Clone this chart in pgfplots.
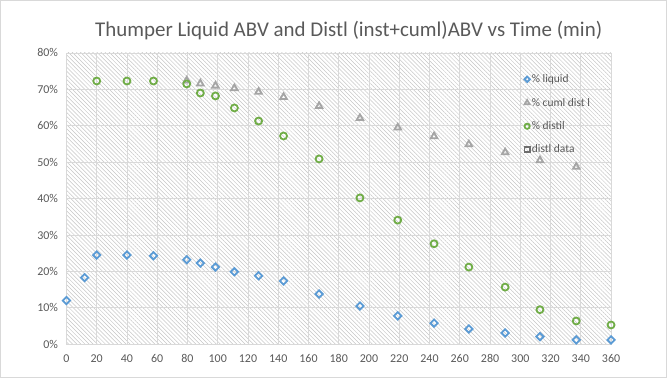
\documentclass[border=0pt]{standalone}
\usepackage{fontspec}
\setmainfont{Carlito}
\usepackage{pgfplots}
\pgfplotsset{compat=1.18}
\usetikzlibrary{patterns.meta}
\definecolor{txt}{RGB}{89,89,89}
\definecolor{gridc}{RGB}{217,217,217}
\definecolor{cblue}{RGB}{91,155,213}
\definecolor{cgray}{RGB}{165,165,165}
\definecolor{cgreen}{RGB}{112,173,71}
\definecolor{cdark}{RGB}{110,110,110}
\begin{document}
\begin{tikzpicture}
\begin{axis}[
  scale only axis, width=544bp, height=291bp,
  xmin=0, xmax=360, ymin=0, ymax=80,
  xtick={0,20,...,360}, ytick={0,10,...,80},
  yticklabel={\pgfmathprintnumber{\tick}\%},
  /pgf/number format/assume math mode=true,
  tick style={draw=none},
  ticklabel style={font=\fontsize{12}{14}\selectfont, text=txt},
  xticklabel style={yshift=-7bp},
  yticklabel style={xshift=-5bp},
  grid=major, grid style={gridc, line width=0.8pt},
  axis line style={gridc, line width=0.8pt},
  axis background/.style={pattern={Lines[angle=-45, distance=2.9bp, line width=0.5bp]}, pattern color=gray!45},
  clip=false,
  legend style={draw=none, fill=none, at={(rel axis cs:0.835,0.94)}, anchor=north west,
     font=\fontsize{11.5}{13}\selectfont, text=txt, row sep=10bp,
     /tikz/every even column/.append style={column sep=0pt}},
  legend cell align=left,
  legend image post style={scale=0.75},
]
\addplot[only marks, mark=square, mark size=2.6pt, mark options={rotate=45, draw=cblue, line width=1.8pt, fill=none}] coordinates {
(0,12.0) (12,18.3) (20,24.5) (40,24.5) (57.5,24.3) (79.5,23.2) (88.5,22.3) (98.5,21.2) (111,19.9) (127,18.8) (143.5,17.4) (167,13.8) (194,10.5) (219,7.8) (243,5.8) (266,4.2) (290,3.1) (313,2.1) (337,1.2) (360,1.2)};
\addlegendentry{\% liquid}
\addplot[only marks, mark=triangle, mark size=3.8pt, mark options={draw=cgray, line width=1.8pt, fill=none}] coordinates {
(79.5,72.4) (88.5,71.6) (98.5,71.0) (111,70.3) (127,69.3) (143.5,67.9) (167,65.4) (194,62.1) (219,59.5) (243,57.1) (266,54.9) (290,52.7) (313,50.5) (337,48.7)};
\addlegendentry{\% cuml dist l}
\addplot[only marks, mark=o, mark size=3.5pt, mark options={draw=cgreen, line width=1.8pt, fill=none}] coordinates {
(20,72.3) (40,72.3) (57.5,72.3) (79.5,71.5) (88.5,69.0) (98.5,68.2) (111,64.9) (127,61.3) (143.5,57.2) (167,50.9) (194,40.2) (219,34.1) (243,27.6) (266,21.2) (290,15.7) (313,9.5) (337,6.4) (360,5.3)};
\addlegendentry{\% distil}
\addlegendimage{only marks, mark=square, mark size=3.5pt, mark options={draw=cdark, line width=1.8pt, fill=none}}
\addlegendentry{distl data}
\node[font=\fontsize{21}{24}\selectfont, text=txt] at ([xshift=10bp,yshift=22bp]rel axis cs:0.5,1) {Thumper Liquid ABV and Distl (inst+cuml)ABV vs Time (min)};
\draw[gridc, line width=0.8pt] ([xshift=-66bp,yshift=-33.5bp]rel axis cs:0,0) rectangle ([xshift=55.5bp,yshift=52.5bp]rel axis cs:1,1);
\end{axis}
\end{tikzpicture}
\end{document}
